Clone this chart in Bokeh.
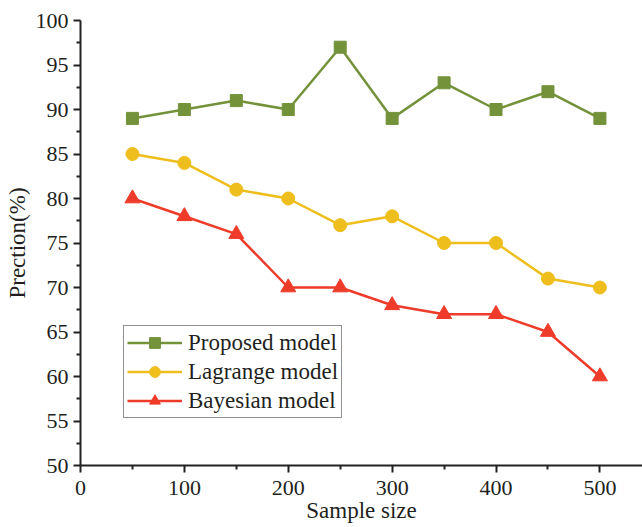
from bokeh.plotting import figure
from bokeh.embed import file_html
from bokeh.resources import INLINE
from bokeh.models import Legend, LegendItem, Range1d, FixedTicker

sizes = [50, 100, 150, 200, 250, 300, 350, 400, 450, 500]
proposed = [89, 90, 91, 90, 97, 89, 93, 90, 92, 89]
lagrange = [85, 84, 81, 80, 77, 78, 75, 75, 71, 70]
bayesian = [80, 78, 76, 70, 70, 68, 67, 67, 65, 60]
x_ticks = [0, 100, 200, 300, 400, 500]
y_ticks = [50, 55, 60, 65, 70, 75, 80, 85, 90, 95, 100]

FONT = "Liberation Serif"
p = figure(width=642, height=527, output_backend="svg", toolbar_location=None,
           x_range=Range1d(0, 541), y_range=Range1d(50, 100),
           min_border_left=80, min_border_right=0, min_border_top=20, min_border_bottom=62)
p.outline_line_color = None
p.grid.visible = False
p.background_fill_color = "white"

green = "#73923A"
yellow = "#EEBE1C"
red = "#EE3B2A"

r1 = p.line(sizes, proposed, line_color=green, line_width=2.5)
s1 = p.scatter(sizes, proposed, marker="square", size=12, fill_color=green, line_color=green)
r2 = p.line(sizes, lagrange, line_color=yellow, line_width=2.5)
s2 = p.scatter(sizes, lagrange, marker="circle", size=13, fill_color=yellow, line_color=yellow)
r3 = p.line(sizes, bayesian, line_color=red, line_width=2.5)
s3 = p.scatter(sizes, bayesian, marker="triangle", size=15, fill_color=red, line_color=red)

for ax in (p.xaxis[0], p.yaxis[0]):
    ax.axis_line_width = 2
    ax.axis_line_color = "#222222"
    ax.major_tick_line_width = 2
    ax.minor_tick_line_width = 2
    ax.major_tick_line_color = "#222222"
    ax.minor_tick_line_color = "#222222"
    ax.major_tick_out = 7
    ax.major_tick_in = 0
    ax.minor_tick_out = 4
    ax.minor_tick_in = 0
    ax.major_label_text_font = FONT
    ax.major_label_text_font_size = "22px"
    ax.major_label_text_color = "#231f20"
    ax.axis_label_text_font = FONT
    ax.axis_label_text_font_size = "23px"
    ax.axis_label_text_font_style = "normal"
    ax.axis_label_text_color = "#231f20"

p.xaxis.ticker = FixedTicker(ticks=x_ticks, minor_ticks=[50, 150, 250, 350, 450])
p.yaxis.ticker = FixedTicker(ticks=y_ticks, minor_ticks=[52.5 + 5 * i for i in range(10)])
p.xaxis.axis_label = "Sample size"
p.yaxis.axis_label = "Prection(%)"
p.xaxis.major_label_standoff = 8
p.yaxis.major_label_standoff = 5
p.xaxis.axis_label_standoff = 0
p.yaxis.axis_label_standoff = 3

legend = Legend(items=[
    LegendItem(label="Proposed model", renderers=[r1, s1]),
    LegendItem(label="Lagrange model", renderers=[r2, s2]),
    LegendItem(label="Bayesian model", renderers=[r3, s3]),
], location=(43, 47))
legend.label_text_font = FONT
legend.label_text_font_size = "23px"
legend.label_text_color = "#231f20"
legend.border_line_color = "#222222"
legend.border_line_width = 1.5
legend.glyph_width = 55
legend.glyph_height = 27
legend.spacing = 2
legend.padding = 3
legend.margin = 0
legend.label_standoff = 6
legend.background_fill_alpha = 1
p.add_layout(legend, "center")

open("out.html", "w").write(file_html(p, INLINE))
